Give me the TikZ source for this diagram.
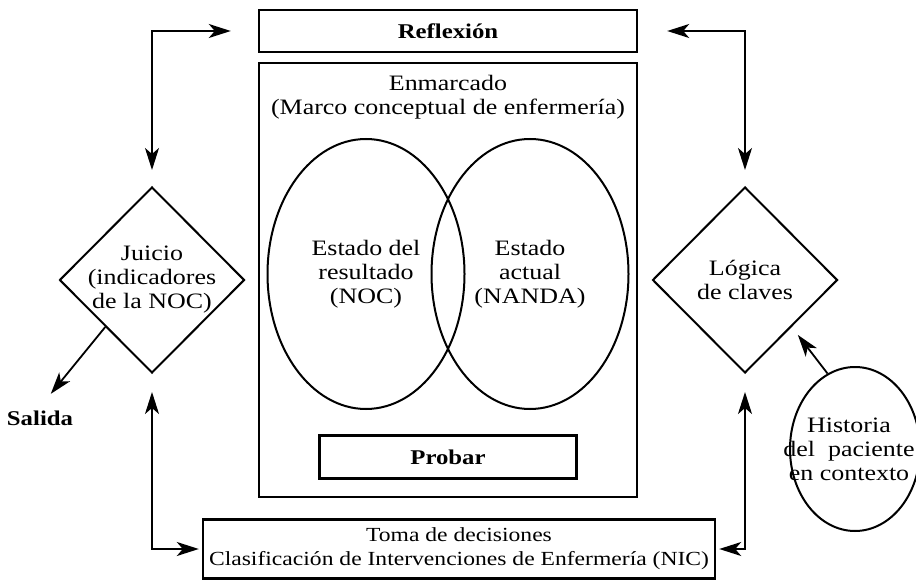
\documentclass[tikz,border=0pt]{standalone}
\usepackage{fontspec}
\setmainfont{Liberation Serif}[FakeStretch=1.18]
\usetikzlibrary{shapes.geometric,arrows.meta}

\newcommand{\txtfont}{\fontsize{22}{24}\selectfont}
\newcommand{\tomafont}{\fontsize{20}{24}\selectfont}
\newcommand{\negritafont}{\bfseries\fontsize{21}{24}\selectfont}

\tikzset{
  box/.style={draw, line width=2.4pt, inner sep=0pt},
  oval/.style={ellipse, draw, line width=2pt, inner sep=0pt, align=center, font=\txtfont},
  rombo/.style={diamond, draw, line width=2pt, inner sep=0pt, minimum width=185pt, minimum height=186pt},
  txt/.style={align=center, font=\txtfont, inner sep=1pt},
  punta/.tip={Stealth[length=22pt,width=14pt,inset=6pt]},
  flecha/.style={line width=1.8pt, -punta},
  dflecha/.style={line width=1.8pt, punta-punta}
}

\begin{document}
\begin{tikzpicture}[x=1pt,y=-1pt]
  \useasboundingbox (0,0) rectangle (916,580);

  % cajas del centro
  \node[box, minimum width=378pt, minimum height=42pt, font=\negritafont] (reflex) at (448,31) {Reflexión};
  \node[box, minimum width=378pt, minimum height=434pt] (enm) at (448,280) {};
  \node[txt] (enmtxt) at (448,97) {Enmarcado\\(Marco conceptual de enfermería)};
  \node[oval, minimum width=197pt, minimum height=270pt] (noc) at (366,274) {Estado del\\resultado\\(NOC)};
  \node[oval, minimum width=197pt, minimum height=270pt] (nanda) at (530,274) {Estado\\actual\\(NANDA)};
  \node[box, minimum width=257pt, minimum height=43pt, font=\negritafont] (probar) at (448,457) {Probar};
  \node[box, minimum width=512pt, minimum height=59pt, align=center, font=\tomafont] (toma) at (459,549)
    {Toma de decisiones\\Clasificación de Intervenciones de Enfermería (NIC)};

  % rombos y entradas
  \node[rombo] (juicio) at (152,280) {};
  \node[txt] (juiciotxt) at (juicio) {Juicio\\(indicadores\\de la NOC)};
  \node[rombo] (logica) at (745,280) {};
  \node[txt] (logicatxt) at (logica) {Lógica\\de claves};
  \node[oval, minimum width=130pt, minimum height=164pt] (historia) at (855,449) {};
  \node[txt] (historiatxt) at ([xshift=-6pt]historia) {Historia\\del~ paciente\\en contexto};
  \node[font=\negritafont] (salida) at (40,418) {Salida};

  % flechas
  \draw [dflecha, shorten <=16pt, shorten >=27pt] (juicio.north) |- (reflex.west);
  \draw [dflecha, shorten <=16pt, shorten >=29pt] (logica.north) |- (reflex.east);
  \draw [dflecha, shorten <=18pt, shorten >=3pt] (juicio.south) |- (toma.west);
  \draw [dflecha, shorten <=18pt, shorten >=3pt] (logica.south) |- (toma.east);
  \draw [flecha, shorten >=17pt] (juicio.south west) -- (salida.north);
  \draw [flecha, shorten >=10pt] (historia.110) -- (logica.south east);
\end{tikzpicture}
\end{document}
